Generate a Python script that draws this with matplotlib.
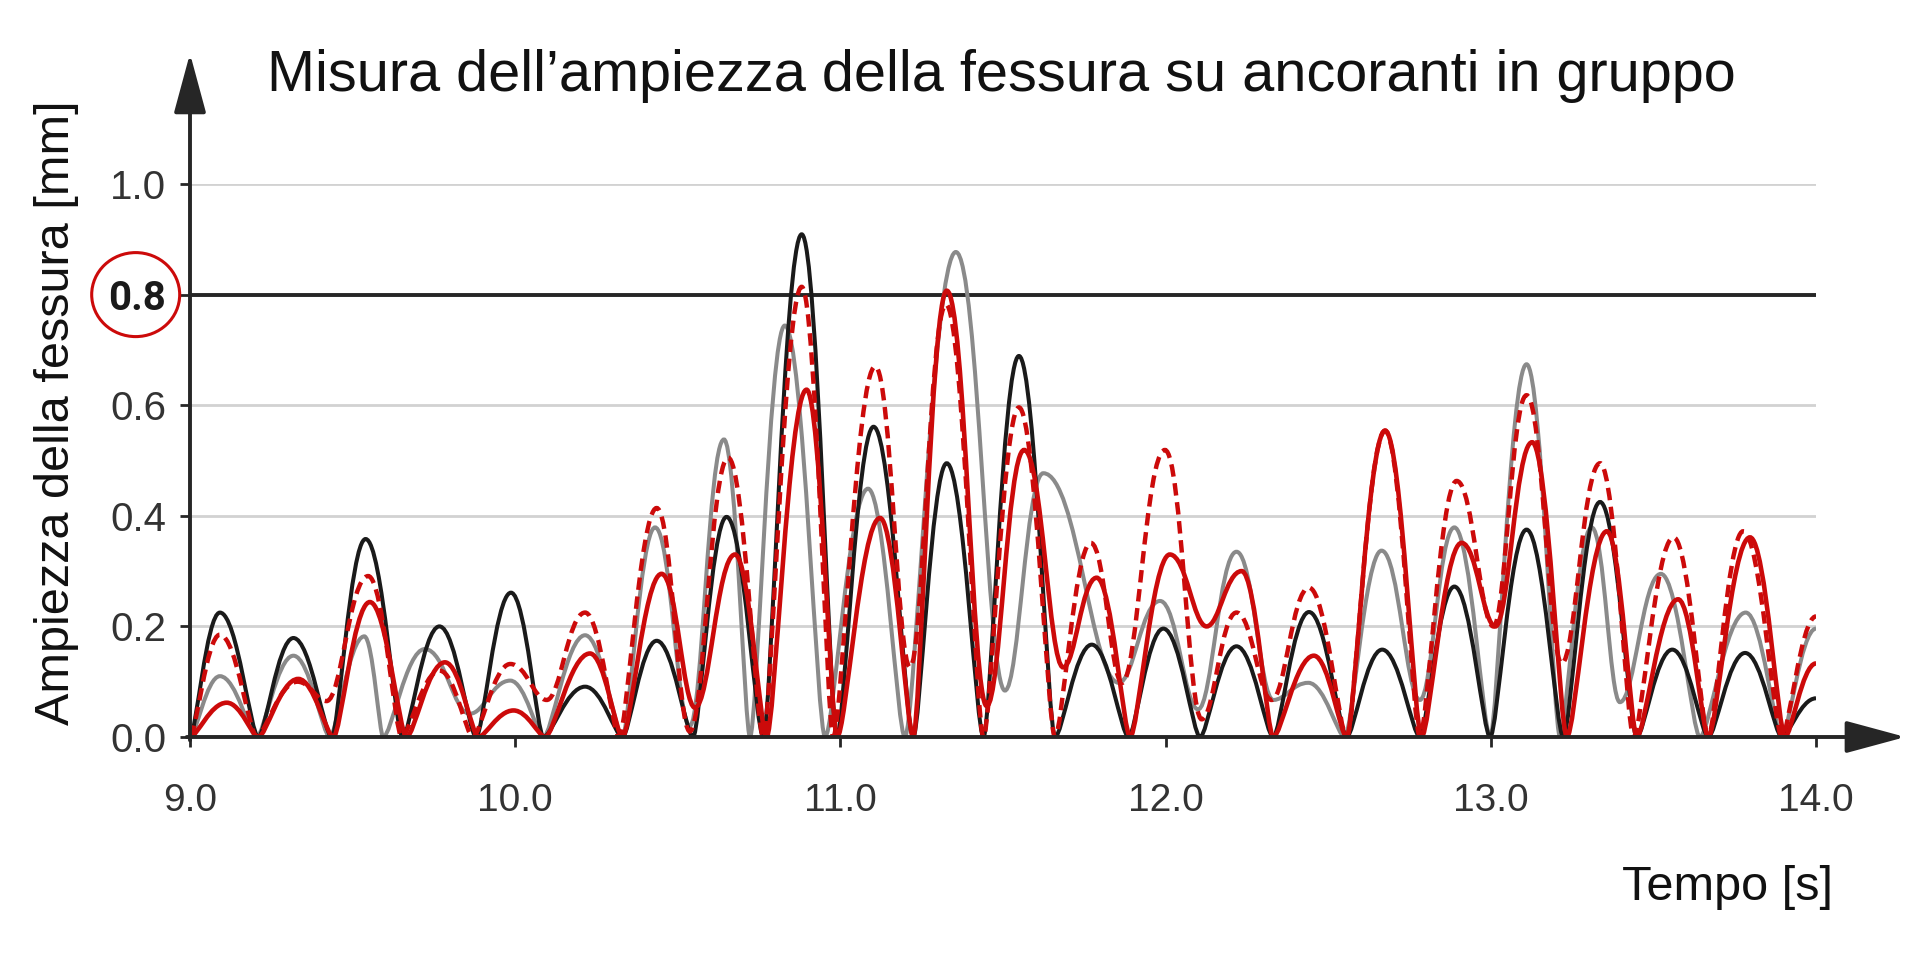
import matplotlib
matplotlib.use("Agg")
import matplotlib.pyplot as plt
from matplotlib.path import Path
from matplotlib.patches import PathPatch, Ellipse
from matplotlib.font_manager import FontProperties
import matplotlib.transforms as mtransforms

plt.rcParams['font.family'] = ['Liberation Sans', 'DejaVu Sans']

# peaks and troughs: time [s], crack width [mm]
black_t = [9.0, 9.092, 9.21, 9.318, 9.436, 9.54, 9.654, 9.767, 9.88, 9.987,
           10.087, 10.215, 10.33, 10.435, 10.547, 10.65, 10.763, 10.881, 10.989,
           11.102, 11.224, 11.327, 11.44, 11.549, 11.66, 11.773, 11.886, 11.993,
           12.106, 12.218, 12.331, 12.441, 12.557, 12.666, 12.782, 12.888, 12.998,
           13.11, 13.223, 13.336, 13.449, 13.558, 13.669, 13.782, 13.895, 14.0]
black_y = [0, .225, 0, .179, 0, .358, 0, .20, 0, .261,
           0, .091, 0, .174, 0, .398, 0, .909, 0,
           .561, 0, .495, 0, .689, 0, .167, 0, .196,
           0, .164, 0, .226, 0, .158, 0, .272, 0,
           .375, 0, .425, 0, .158, 0, .152, 0, .07]

gray_t = [9.0, 9.092, 9.205, 9.318, 9.43, 9.536, 9.594, 9.722, 9.86, 9.985,
          10.087, 10.215, 10.33, 10.43, 10.537, 10.642, 10.722, 10.829, 10.953,
          11.085, 11.198, 11.355, 11.506, 11.624, 11.856, 11.983, 12.10, 12.218,
          12.331, 12.439, 12.551, 12.664, 12.782, 12.888, 12.998, 13.11, 13.213,
          13.31, 13.397, 13.523, 13.643, 13.784, 13.895, 14.0]
gray_y = [0, .110, 0, .147, 0, .182, 0, .159, .042, .102,
          0, .184, 0, .379, .02, .538, 0, .744, 0,
          .449, 0, .877, .084, .477, .098, .246, .05, .335,
          .067, .098, 0, .337, .067, .379, 0, .674, 0,
          .379, .063, .295, 0, .225, 0, .196]

red_t = [9.0, 9.113, 9.21, 9.333, 9.441, 9.553, 9.666, 9.784, 9.887, 9.995,
         10.092, 10.23, 10.33, 10.45, 10.553, 10.676, 10.773, 10.896, 10.99,
         11.122, 11.224, 11.327, 11.45, 11.565, 11.685, 11.788, 11.891, 12.013,
         12.126, 12.234, 12.331, 12.456, 12.557, 12.675, 12.787, 12.91, 13.014,
         13.127, 13.234, 13.357, 13.449, 13.576, 13.669, 13.797, 13.905, 14.0]
red_y = [0, .062, 0, .105, 0, .244, 0, .135, 0, .048,
         0, .151, 0, .295, .053, .330, 0, .628, 0,
         .396, 0, .807, .056, .519, .126, .288, 0, .330,
         .20, .30, 0, .147, 0, .554, 0, .351, .20,
         .533, 0, .372, 0, .249, 0, .361, 0, .133]

reddash_t = [9.0, 9.092, 9.205, 9.33, 9.42, 9.548, 9.651, 9.768, 9.87, 9.985,
             10.097, 10.215, 10.32, 10.435, 10.537, 10.655, 10.763, 10.881, 10.978,
             11.107, 11.214, 11.325, 11.44, 11.549, 11.66, 11.77, 11.866, 11.998,
             12.111, 12.218, 12.326, 12.441, 12.557, 12.675, 12.782, 12.895, 13.008,
             13.11, 13.218, 13.336, 13.439, 13.562, 13.669, 13.776, 13.895, 14.0]
reddash_y = [0, .185, 0, .10, .065, .291, 0, .12, 0, .132,
             .067, .225, 0, .414, .01, .505, 0, .814, 0,
             .670, .126, .782, 0, .596, 0, .351, .098, .519,
             .032, .225, .067, .270, 0, .554, 0, .463, .20,
             .618, .133, .495, 0, .361, 0, .372, 0, .218]

yticks = [0.0, 0.2, 0.4, 0.6, 0.8, 1.0]
xticks = [9.0, 10.0, 11.0, 12.0, 13.0, 14.0]
limit = 0.8

RED = '#cc0a0a'
AXC = '#262626'


def smooth_path(t, y):
    # cubic segments, flat tangents at every extremum:
    # long handles at peaks (round tops), short ones at zero (narrow troughs)
    verts = [(t[0], y[0])]
    codes = [Path.MOVETO]
    for i in range(1, len(t)):
        ta, ya, tb, yb = t[i - 1], y[i - 1], t[i], y[i]
        dx = tb - ta
        ka = 0.2 if ya == 0 else (0.45 if ya > yb else 0.36)
        kb = 0.2 if yb == 0 else (0.45 if yb > ya else 0.36)
        verts += [(ta + ka * dx, ya), (tb - kb * dx, yb), (tb, yb)]
        codes += [Path.CURVE4] * 3
    return Path(verts, codes)


fig = plt.figure(figsize=(19.2, 9.6), dpi=100)
ax = fig.add_axes([190 / 1920, 223 / 960, 1626 / 1920, 553 / 960])
ax.set_xlim(9.0, 14.0)
ax.set_ylim(0.0, 1.0)

for s in ax.spines.values():
    s.set_visible(False)

ax.set_axisbelow(True)
ax.yaxis.grid(True, color='#d2d2d2', lw=2.0)
ax.axhline(limit, color=AXC, lw=2.8, zorder=1.5)

ax.add_patch(PathPatch(smooth_path(gray_t, gray_y), fill=False, edgecolor='#8a8a8a', lw=2.9, zorder=3))
ax.add_patch(PathPatch(smooth_path(black_t, black_y), fill=False, edgecolor='#1a1a1a', lw=2.9, zorder=3.2))
ax.add_patch(PathPatch(smooth_path(reddash_t, reddash_y), fill=False, edgecolor=RED, lw=3.2,
                       linestyle=(0, (2.8, 1.5)), zorder=3.4))
ax.add_patch(PathPatch(smooth_path(red_t, red_y), fill=False, edgecolor=RED, lw=3.3, zorder=3.6))

# axes drawn as arrows
ax.annotate('', xy=(1.055, 0), xytext=(-0.002, 0), xycoords='axes fraction',
            arrowprops=dict(arrowstyle='-|>,head_length=3.7,head_width=1.0', mutation_scale=10,
                            lw=2.8, color=AXC, shrinkA=0, shrinkB=0), zorder=6)
ax.annotate('', xy=(0, 1.236), xytext=(0, -0.006), xycoords='axes fraction',
            arrowprops=dict(arrowstyle='-|>,head_length=3.7,head_width=1.0', mutation_scale=10,
                            lw=2.8, color=AXC, shrinkA=0, shrinkB=0), zorder=6)

ax.set_yticks(yticks)
ax.set_yticklabels(['%.1f' % v for v in yticks])
ax.set_xticks(xticks)
ax.set_xticklabels(['%.1f' % v for v in xticks])
ax.tick_params(axis='y', length=7, width=2, color=AXC, pad=10, labelsize=29, labelcolor='#333333')
ax.tick_params(axis='x', length=7, width=2, color=AXC, pad=26, labelsize=28, labelcolor='#333333')
lab = ax.get_yticklabels()[yticks.index(limit)]
lab.set_fontproperties(FontProperties(family=['Roboto', 'DejaVu Sans'], weight='bold', size=29))
lab.set_color('#1a1a1a')

# red ring around the 0.8 label
trans = mtransforms.blended_transform_factory(ax.transAxes, ax.transData)
ax.add_patch(Ellipse((-0.0334, limit), 88 / 1626, 84 / 553, transform=trans, fill=False,
                     edgecolor=RED, lw=2.2, clip_on=False))

fig.text(267 / 1920, 1 - 91 / 960, 'Misura dell\u2019ampiezza della fessura su ancoranti in gruppo',
         fontsize=41.5, ha='left', va='baseline', color='#111111')
fig.text(57 / 1920, 1 - 413 / 960, 'Ampiezza della fessura [mm]', rotation=90,
         fontsize=35, ha='center', va='center', color='#111111')
fig.text(1622 / 1920, 1 - 900 / 960, 'Tempo [s]', fontsize=35, ha='left', va='baseline', color='#111111')

fig.savefig('out.png', dpi=100, facecolor='white')
